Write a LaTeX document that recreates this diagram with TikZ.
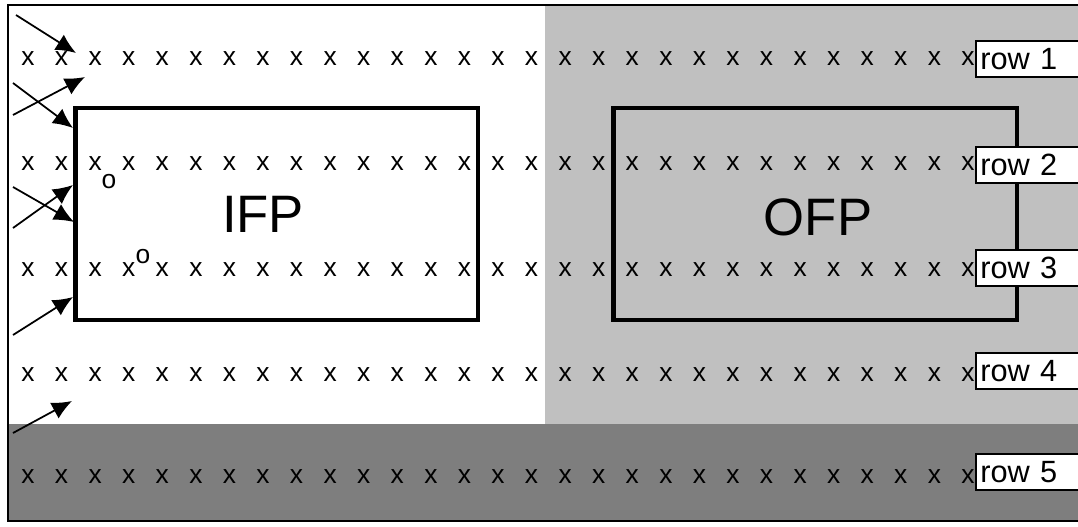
\documentclass[tikz,border=0pt]{standalone}
\usepackage{fontspec}
\setmainfont{Liberation Sans}
\usetikzlibrary{arrows.meta}
\definecolor{lightgrey}{RGB}{192,192,192}
\definecolor{darkgrey}{RGB}{126,126,126}

\begin{document}
\begin{tikzpicture}[x=0.02cm, y=-0.02cm,
        cell/.style={inner sep=0pt, font=\fontsize{15}{17}\selectfont},
        plan/.style={draw, line width=2.8pt, inner sep=0pt},
        plantext/.style={inner sep=0pt, font=\fontsize{30}{34}\selectfont},
        rowlabel/.style={draw, fill=white, line width=1pt, anchor=west, text width=2.3cm,
            minimum height=0.72cm, inner sep=2.5pt, font=\fontsize{17.5}{20}\selectfont},
        feed/.style={-{Latex[length=0.4cm, width=0.36cm]}, line width=1pt}]
        \useasboundingbox (0,0) rectangle (1078,527);
        \clip (0,0) rectangle (1078,527);

        % Background areas
        \fill[lightgrey] (545,5) rectangle (1078,424);
        \fill[darkgrey] (8,424) rectangle (1078,521);
        \draw[line width=1.2pt] (1078,5) -- (8,5) -- (8,521) -- (1078,521);

        % Rows of cells
        \foreach \r/\y in {1/59, 2/164, 3/270, 4/375, 5/477} {
            \foreach \c in {0,...,28} {
                \node[cell] (x-\r-\c) at ({28+33.57*\c}, \y) {x};
            }
        }
        \node[cell] (o1) at (109,182) {o};
        \node[cell] (o2) at (143,257) {o};

        % Floor plans
        \node[plan, minimum width=8.06cm, minimum height=4.24cm] (IFPbox) at (276.5,214) {};
        \node[plan, minimum width=8.08cm, minimum height=4.24cm] (OFPbox) at (815,214) {};
        \node[plantext] (IFP) at (263,214) {IFP};
        \node[plantext] (OFP) at (818,217) {OFP};

        % Row labels
        \node[rowlabel] (row1) at (975,59) {row 1};
        \node[rowlabel] (row2) at (975,165) {row 2};
        \node[rowlabel] (row3) at (975,268) {row 3};
        \node[rowlabel] (row4) at (975,371) {row 4};
        \node[rowlabel] (row5) at (975,472) {row 5};

        % Incoming signals
        \coordinate (s1) at (16,15);   \coordinate (t1) at (76,53);
        \coordinate (s2) at (13,115);  \coordinate (t2) at (85,77);
        \coordinate (s3) at (13,83);   \coordinate (t3) at (73,128);
        \coordinate (s4) at (13,228);  \coordinate (t4) at (73,185);
        \coordinate (s5) at (13,187);  \coordinate (t5) at (74,222);
        \coordinate (s6) at (13,335);  \coordinate (t6) at (73,297);
        \coordinate (s7) at (13,433);  \coordinate (t7) at (72,401);
        \foreach \i in {1,...,7} {
            \draw[feed] (s\i) -- (t\i);
        }
    \end{tikzpicture}
\end{document}
